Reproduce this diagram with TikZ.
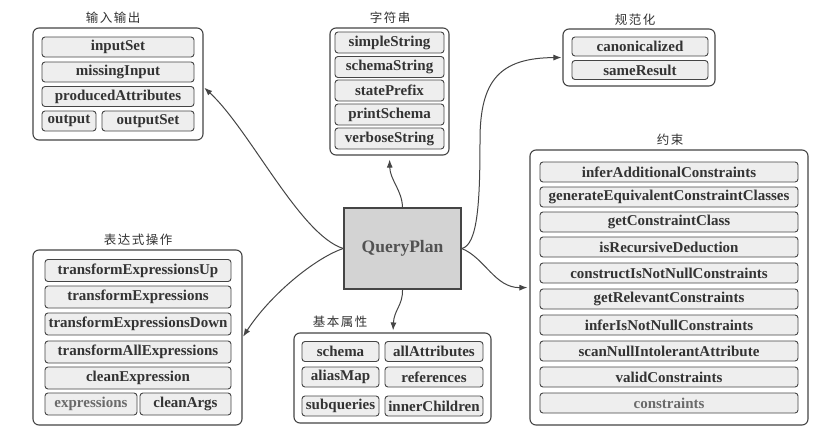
\documentclass[tikz,border=0pt]{standalone}
\usepackage{fontspec}
\setmainfont{Liberation Serif}
\newfontfamily\cjk[LetterSpace=12]{Noto Sans CJK SC}
\usetikzlibrary{arrows.meta}
\definecolor{linec}{HTML}{454545}
\definecolor{textc}{HTML}{333333}
\definecolor{fieldc}{HTML}{6a6a6a}
\definecolor{itemfill}{HTML}{EEEEEE}
\definecolor{qpfill}{HTML}{D3D3D3}
\begin{document}
\begin{tikzpicture}[x=1pt,y=-1pt,
  outerbox/.style={draw=linec, line width=1.1pt, rounded corners=6pt, fill=white, inner sep=0pt},
  itembox/.style={draw=linec, line width=0.9pt, rounded corners=3pt, fill=itemfill, inner sep=0pt,
     font=\fontsize{15}{15}\selectfont\bfseries, text=textc},
  fieldbox/.style={itembox, text=fieldc},
  grouptitle/.style={font=\cjk\fontsize{12.5}{12.5}\selectfont, text=textc, inner sep=0pt},
  qpbox/.style={draw=linec, line width=1.5pt, fill=qpfill, inner sep=0pt,
     font=\fontsize{17.5}{17.5}\selectfont\bfseries, text=textc!85!white},
  conn/.style={draw=linec, line width=1pt, -{Latex[length=8pt,width=6pt]}, shorten >=1pt}]
\useasboundingbox (0,0) rectangle (817,434);
\fill[white] (0,0) rectangle (817,434);

% ---------- 输入输出 ----------
\node[grouptitle] (iot) at (113,18) {输入输出};
\node[outerbox, minimum width=170pt, minimum height=112pt] (io) at (118,84) {};
\node[itembox, minimum width=152pt, minimum height=20pt] (inputSet) at (118,47) {inputSet};
\node[itembox, minimum width=152pt, minimum height=20pt] (missingInput) at (118,72) {missingInput};
\node[itembox, minimum width=152pt, minimum height=20pt] (producedAttributes) at (118,96.5) {producedAttributes};
\node[itembox, minimum width=54pt, minimum height=20pt] (output) at (69,121) {output};
\node[itembox, minimum width=92pt, minimum height=20pt] (outputSet) at (148,121) {outputSet};

% ---------- 字符串 ----------
\node[grouptitle] (strt) at (390,18) {字符串};
\node[outerbox, minimum width=119pt, minimum height=127pt] (str) at (389.5,91.5) {};
\node[itembox, minimum width=109pt, minimum height=21pt] (simpleString) at (389.5,42.5) {simpleString};
\node[itembox, minimum width=109pt, minimum height=21pt] (schemaString) at (389.5,67) {schemaString};
\node[itembox, minimum width=109pt, minimum height=21pt] (statePrefix) at (389.5,90.5) {statePrefix};
\node[itembox, minimum width=109pt, minimum height=21pt] (printSchema) at (389.5,114.5) {printSchema};
\node[itembox, minimum width=109pt, minimum height=21pt] (verboseString) at (389.5,138.5) {verboseString};

% ---------- 规范化 ----------
\node[grouptitle] (canont) at (635,20) {规范化};
\node[outerbox, minimum width=152pt, minimum height=57pt] (canon) at (639,57.5) {};
\node[itembox, minimum width=136pt, minimum height=19pt] (canonicalized) at (640,46.5) {canonicalized};
\node[itembox, minimum width=136pt, minimum height=19pt] (sameResult) at (640,70) {sameResult};

% ---------- 约束 ----------
\node[grouptitle] (const) at (670,140) {约束};
\node[outerbox, minimum width=278pt, minimum height=275pt] (cons) at (669,287.5) {};
\node[itembox, minimum width=258pt, minimum height=20pt] (c1) at (669,172) {inferAdditionalConstraints};
\node[itembox, minimum width=258pt, minimum height=20pt] (c2) at (669,197) {generateEquivalentConstraintClasses};
\node[itembox, minimum width=258pt, minimum height=20pt] (c3) at (669,222) {getConstraintClass};
\node[itembox, minimum width=258pt, minimum height=20pt] (c4) at (669,247) {isRecursiveDeduction};
\node[itembox, minimum width=258pt, minimum height=20pt] (c5) at (669,273) {constructIsNotNullConstraints};
\node[itembox, minimum width=258pt, minimum height=20pt] (c6) at (669,299) {getRelevantConstraints};
\node[itembox, minimum width=258pt, minimum height=20pt] (c7) at (669,325) {inferIsNotNullConstraints};
\node[itembox, minimum width=258pt, minimum height=20pt] (c8) at (669,351) {scanNullIntolerantAttribute};
\node[itembox, minimum width=258pt, minimum height=20pt] (c9) at (669,377) {validConstraints};
\node[fieldbox, minimum width=258pt, minimum height=20pt] (c10) at (669,403) {constraints};

% ---------- 表达式操作 ----------
\node[grouptitle] (exprt) at (138,240) {表达式操作};
\node[outerbox, minimum width=209pt, minimum height=175pt] (expr) at (137.5,337.5) {};
\node[itembox, minimum width=186pt, minimum height=22pt] (e1) at (138,270.5) {transformExpressionsUp};
\node[itembox, minimum width=186pt, minimum height=22pt] (e2) at (138,297) {transformExpressions};
\node[itembox, minimum width=186pt, minimum height=22pt] (e3) at (138,324) {transformExpressionsDown};
\node[itembox, minimum width=186pt, minimum height=22pt] (e4) at (138,352) {transformAllExpressions};
\node[itembox, minimum width=186pt, minimum height=22pt] (e5) at (138,378) {cleanExpression};
\node[fieldbox, minimum width=92pt, minimum height=22pt] (e6) at (91,404) {expressions};
\node[itembox, minimum width=91pt, minimum height=22pt] (e7) at (185.5,404) {cleanArgs};

% ---------- 基本属性 ----------
\node[grouptitle] (basict) at (340,322) {基本属性};
\node[outerbox, minimum width=197pt, minimum height=90pt] (basic) at (392.5,378) {};
\node[itembox, minimum width=77pt, minimum height=20pt] (schema) at (340.5,351.5) {schema};
\node[itembox, minimum width=98pt, minimum height=20pt] (allAttributes) at (434,351.5) {allAttributes};
\node[itembox, minimum width=77pt, minimum height=20pt] (aliasMap) at (340.5,377) {aliasMap};
\node[itembox, minimum width=98pt, minimum height=20pt] (references) at (434,377) {references};
\node[itembox, minimum width=77pt, minimum height=20pt] (subqueries) at (340.5,406) {subqueries};
\node[itembox, minimum width=98pt, minimum height=20pt] (innerChildren) at (434,406) {innerChildren};

% ---------- QueryPlan ----------
\node[qpbox, minimum width=117pt, minimum height=81pt] (qp) at (402.5,248.5) {QueryPlan};

% ---------- connectors ----------
\coordinate (bend) at (480,140);
\draw[conn] (qp.west) .. controls (300,235) and (250,130) .. ([yshift=-3pt]io.east);
\draw[conn] (qp.west) .. controls (315,258) and (270,295) .. (expr.east);
\draw[conn, shorten >=4pt] (qp.north) .. controls (402,190) and (390,180) .. (str.south);
\draw[conn] (qp.east) .. controls (478,245) and (480,200) .. (bend)
   .. controls (480,80) and (500,58) .. (canon.west);
\draw[conn, shorten >=2pt] (qp.east) .. controls (485,258) and (495,288) .. (cons.west);
\draw[conn, shorten >=2pt] (qp.south) .. controls (403,305) and (394,310) .. (basic.north -| 393,0);
\end{tikzpicture}
\end{document}
